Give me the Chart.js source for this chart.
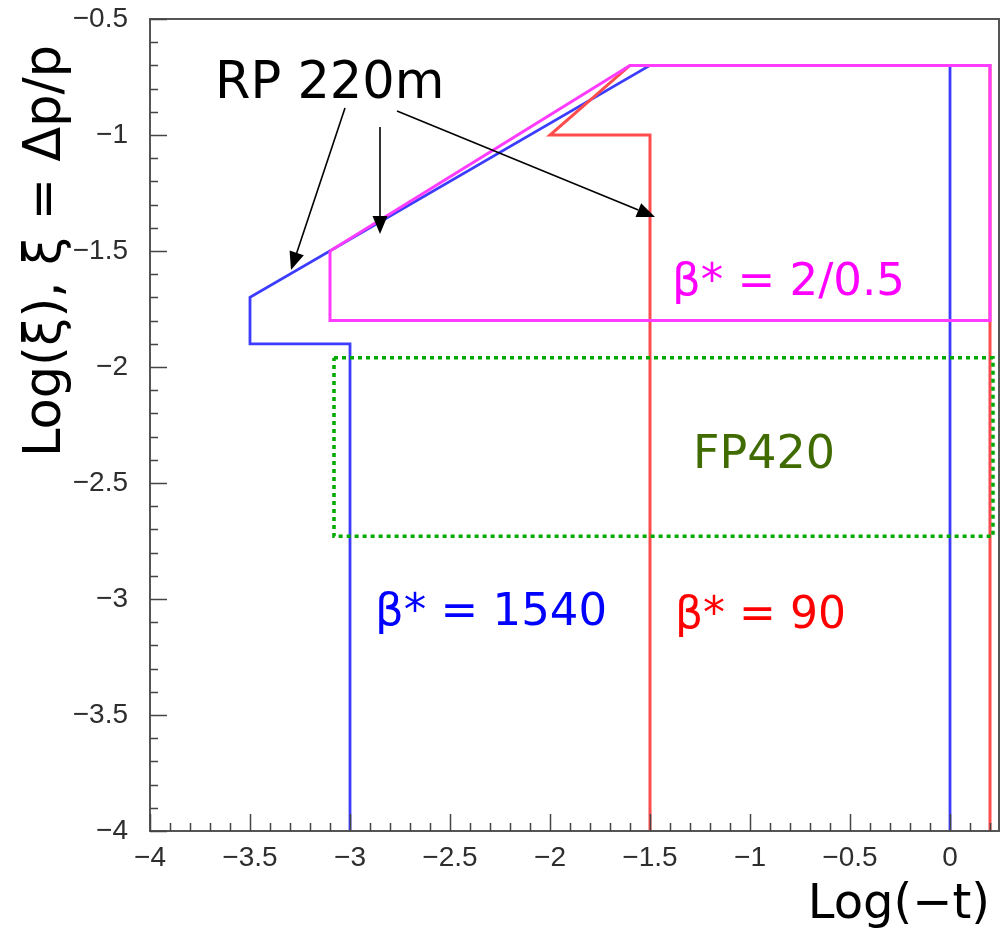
<!DOCTYPE html>
<html>
<head>
<meta charset="utf-8">
<script src="https://cdn.jsdelivr.net/npm/chart.js@4/dist/chart.umd.min.js"></script>
<style>
  html, body { margin: 0; padding: 0; background: #fff; }
  canvas { display: block; }
</style>
</head>
<body>
<canvas id="chart" width="1008" height="930"></canvas>
<script>
// Acceptance regions in Log(-t) / Log(xi)
var blueX = [-3, -3, -3.5, -3.5, -1.5, 0, 0];
var blueY = [-4, -1.9, -1.9, -1.7, -0.7, -0.7, -4];
var redX = [-1.5, -1.5, -2, -1.6, 0.2, 0.2];
var redY = [-4, -1, -1, -0.7, -0.7, -4];
var magentaX = [-3.1, -3.1, 0.2, 0.2, -1.6, -3.1];
var magentaY = [-1.5, -1.8, -1.8, -0.7, -0.7, -1.5];
var fpX = [-3.08, 0.215, 0.215, -3.08, -3.08];
var fpY = [-1.96, -1.96, -2.73, -2.73, -1.96];

// tick labels
var xTicks = [-4, -3.5, -3, -2.5, -2, -1.5, -1, -0.5, 0];
var yTicks = [-4, -3.5, -3, -2.5, -2, -1.5, -1, -0.5];

function toPoints(xs, ys) {
    return xs.map(function(x, i) { return {x: x, y: ys[i]}; });
}

function fmt(v) {
    return v < 0 ? '\u2212' + Math.abs(v) : String(v);
}

// text labels placed in data coordinates (left edge, baseline)
var labels = [
    {text: 'RP 220m', x: -3.675, y: -0.84, color: '#000000', size: 51},
    {text: '\u03b2* = 2/0.5', x: -1.39, y: -1.69, color: '#ff00ff', size: 45},
    {text: 'FP420', x: -1.285, y: -2.435, color: '#3f6b00', size: 46},
    {text: '\u03b2* = 1540', x: -2.875, y: -3.112, color: '#0000ff', size: 45},
    {text: '\u03b2* = 90', x: -1.375, y: -3.125, color: '#ff0000', size: 44}
];

// arrows from the RP 220m label: [x0, y0, x1, y1] with head at (x1, y1)
var arrows = [
    [-3.025, -0.884, -3.295, -1.582],
    [-2.85, -0.966, -2.85, -1.427],
    [-2.765, -0.897, -1.475, -1.353]
];

var decorations = {
    id: 'decorations',
    afterDatasetsDraw: function(chart) {
        var ctx = chart.ctx;
        var xs = chart.scales.x, ys = chart.scales.y;
        ctx.save();

        // arrows
        ctx.strokeStyle = '#000';
        ctx.fillStyle = '#000';
        ctx.lineWidth = 1.6;
        arrows.forEach(function(a) {
            var x0 = xs.getPixelForValue(a[0]), y0 = ys.getPixelForValue(a[1]);
            var x1 = xs.getPixelForValue(a[2]), y1 = ys.getPixelForValue(a[3]);
            var ang = Math.atan2(y1 - y0, x1 - x0);
            var len = 18, half = 7.5;
            var bx = x1 - len * Math.cos(ang), by = y1 - len * Math.sin(ang);
            ctx.beginPath();
            ctx.moveTo(x0, y0);
            ctx.lineTo(bx, by);
            ctx.stroke();
            ctx.beginPath();
            ctx.moveTo(x1, y1);
            ctx.lineTo(bx + half * Math.sin(ang), by - half * Math.cos(ang));
            ctx.lineTo(bx - half * Math.sin(ang), by + half * Math.cos(ang));
            ctx.closePath();
            ctx.fill();
        });

        // labels
        ctx.textAlign = 'left';
        ctx.textBaseline = 'alphabetic';
        labels.forEach(function(l) {
            ctx.fillStyle = l.color;
            ctx.font = l.size + 'px "DejaVu Sans"';
            ctx.fillText(l.text, xs.getPixelForValue(l.x), ys.getPixelForValue(l.y));
        });
        ctx.restore();
    },
    afterDraw: function(chart) {
        var ctx = chart.ctx;
        var a = chart.chartArea;
        var xs = chart.scales.x, ys = chart.scales.y;
        ctx.save();

        // frame
        ctx.strokeStyle = '#555';
        ctx.lineWidth = 2;
        ctx.strokeRect(a.left, a.top, a.right - a.left, a.bottom - a.top);

        // inward ticks on bottom and left axes
        ctx.strokeStyle = '#444';
        ctx.lineWidth = 1.5;
        ctx.beginPath();
        for (var i = -40; i <= 2; i++) {
            var px = Math.round(xs.getPixelForValue(i / 10)) + 0.5;
            var tl = (i % 5 === 0) ? 17 : 8;
            ctx.moveTo(px, a.bottom);
            ctx.lineTo(px, a.bottom - tl);
        }
        for (var j = -40; j <= -5; j++) {
            var py = Math.round(ys.getPixelForValue(j / 10)) + 0.5;
            var tl2 = (j % 5 === 0) ? 17 : 8;
            ctx.moveTo(a.left, py);
            ctx.lineTo(a.left + tl2, py);
        }
        ctx.stroke();

        // axis titles
        ctx.fillStyle = '#000';
        ctx.font = '48px "DejaVu Sans"';
        ctx.textAlign = 'right';
        ctx.textBaseline = 'alphabetic';
        ctx.fillText('Log(\u2212t)', a.right - 9, a.bottom + 87);

        ctx.translate(a.left - 90, a.bottom - 374);
        ctx.rotate(-Math.PI / 2);
        ctx.font = '51px "DejaVu Sans"';
        ctx.textAlign = 'left';
        ctx.fillText('Log(\u03be), \u03be = \u0394p/p', 0, 0);
        ctx.restore();
    }
};

new Chart(document.getElementById('chart'), {
    type: 'scatter',
    data: {
        datasets: [
            {
                label: 'beta* = 2/0.5',
                data: toPoints(magentaX, magentaY),
                borderColor: '#ff3cff',
                borderWidth: 3,
                order: 1
            },
            {
                label: 'beta* = 90',
                data: toPoints(redX, redY),
                borderColor: '#ff4d4d',
                borderWidth: 3,
                order: 2
            },
            {
                label: 'beta* = 1540',
                data: toPoints(blueX, blueY),
                borderColor: '#3c3cff',
                borderWidth: 2.8,
                order: 3
            },
            {
                label: 'FP420',
                data: toPoints(fpX, fpY),
                borderColor: '#00aa00',
                borderWidth: 3.5,
                borderDash: [4, 4],
                order: 0
            }
        ]
    },
    options: {
        responsive: false,
        animation: false,
        showLine: true,
        elements: {
            point: {radius: 0, hoverRadius: 0},
            line: {tension: 0, fill: false, borderCapStyle: 'butt', borderJoinStyle: 'miter'}
        },
        layout: {padding: {top: 19, right: 9, left: 0, bottom: 0}},
        plugins: {
            legend: {display: false},
            tooltip: {enabled: false}
        },
        scales: {
            x: {
                type: 'linear',
                min: -4,
                max: 0.245,
                grid: {display: false, drawTicks: false},
                border: {display: false},
                afterBuildTicks: function(s) {
                    s.ticks = xTicks.map(function(v) { return {value: v}; });
                },
                afterFit: function(s) {
                    s.height = 99;
                    s.paddingLeft = 0;
                    s.paddingRight = 0;
                },
                ticks: {
                    autoSkip: false,
                    maxRotation: 0,
                    padding: 10,
                    color: '#2e2e2e',
                    font: {family: 'Liberation Sans', size: 28},
                    callback: fmt
                }
            },
            y: {
                type: 'linear',
                min: -4,
                max: -0.5,
                grid: {display: false, drawTicks: false},
                border: {display: false},
                afterBuildTicks: function(s) {
                    s.ticks = yTicks.map(function(v) { return {value: v}; });
                },
                afterFit: function(s) {
                    s.width = 150;
                    s.paddingTop = 0;
                    s.paddingBottom = 0;
                },
                ticks: {
                    autoSkip: false,
                    padding: 22,
                    color: '#2e2e2e',
                    font: {family: 'Liberation Sans', size: 28},
                    callback: fmt
                }
            }
        }
    },
    plugins: [decorations]
});
</script>
</body>
</html>
